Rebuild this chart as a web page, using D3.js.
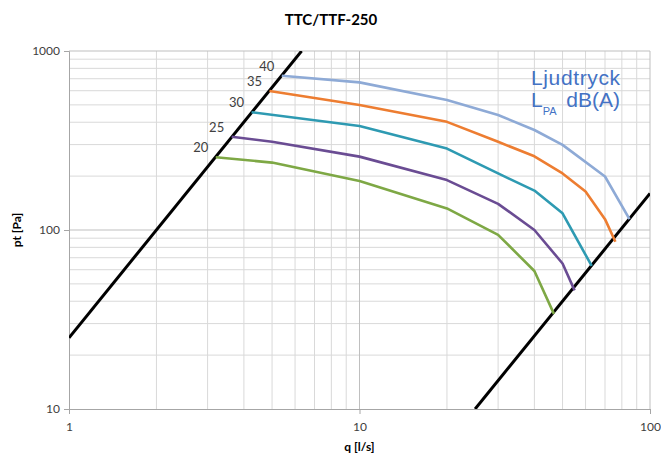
<!DOCTYPE html>
<html>
<head>
<meta charset="utf-8">
<script src="https://cdn.jsdelivr.net/npm/d3@7"></script>
<style>
	body { margin: 0; background: #fff; }
	text { font-family: Lato, 'Open Sans', sans-serif; }
	.note text { font-family: 'Liberation Sans', Arial, sans-serif; }
</style>
</head>
<body>
<div class="canvas"></div>
<script>
// podaci - razine buke i krivulje
const levels = [20, 25, 30, 35, 40];
const q20 = [3.2, 5, 10, 20, 30, 40, 46.7];
const pt20 = [255, 238, 188, 132, 94, 59, 34];
const q25 = [3.63, 5, 10, 20, 30, 40, 50, 55];
const pt25 = [332, 311, 257, 190, 140, 100, 65, 46];
const q30 = [4.25, 10, 20, 30, 40, 50, 63];
const pt30 = [455, 381, 285, 207, 166, 124, 63];
const q35 = [4.9, 10, 20, 30, 40, 50, 60, 70, 76];
const pt35 = [598, 499, 402, 311, 258, 207, 164, 115, 86];
const q40 = [5.4, 10, 20, 30, 40, 50, 70, 85];
const pt40 = [728, 668, 532, 439, 362, 299, 199, 115];
const colours = ['#7ea845', '#6a4c93', '#2e9ab2', '#ed7d31', '#8eaad6'];

// granicne linije
const minQ = [1, 6.32];
const minPt = [25, 1000];
const maxQ = [25, 100];
const maxPt = [10, 160];

const xTicks = [1, 10, 100];
const yTicks = [10, 100, 1000];

const series = [
	{ level: 20, q: q20, pt: pt20 },
	{ level: 25, q: q25, pt: pt25 },
	{ level: 30, q: q30, pt: pt30 },
	{ level: 35, q: q35, pt: pt35 },
	{ level: 40, q: q40, pt: pt40 }
];

const svg = d3
	.select('.canvas')
	.append('svg')
	.attr('width', 661)
	.attr('height', 457);

const margin = { top: 51, right: 11, bottom: 48, left: 69 };
const diagramWidth = 661 - margin.left - margin.right;
const diagramHeight = 457 - margin.top - margin.bottom;

const diagram = svg
	.append('g')
	.attr('transform', `translate(${margin.left}, ${margin.top})`);

const x = d3.scaleLog().domain([1, 100]).range([0, diagramWidth]);
const y = d3.scaleLog().domain([10, 1000]).range([diagramHeight, 0]);

// mreza
const minorX = [];
const minorY = [];
[1, 10].forEach((d) => {
	for (let k = 2; k <= 9; k++) minorX.push(d * k);
});
[10, 100].forEach((d) => {
	for (let k = 2; k <= 9; k++) minorY.push(d * k);
});

diagram.append('g')
	.selectAll('line')
	.data(minorX)
	.enter()
	.append('line')
	.attr('x1', (d) => x(d)).attr('x2', (d) => x(d))
	.attr('y1', 0).attr('y2', diagramHeight)
	.attr('stroke', '#d9d9d9');

diagram.append('g')
	.selectAll('line')
	.data(minorY)
	.enter()
	.append('line')
	.attr('y1', (d) => y(d)).attr('y2', (d) => y(d))
	.attr('x1', 0).attr('x2', diagramWidth)
	.attr('stroke', '#d9d9d9');

diagram.append('g')
	.selectAll('line')
	.data(xTicks.slice(1))
	.enter()
	.append('line')
	.attr('x1', (d) => x(d)).attr('x2', (d) => x(d))
	.attr('y1', 0).attr('y2', diagramHeight)
	.attr('stroke', '#bfbfbf');

diagram.append('g')
	.selectAll('line')
	.data(yTicks.slice(1))
	.enter()
	.append('line')
	.attr('y1', (d) => y(d)).attr('y2', (d) => y(d))
	.attr('x1', 0).attr('x2', diagramWidth)
	.attr('stroke', '#bfbfbf');

// osi
const xAxis = d3.axisBottom(x).tickValues(xTicks).tickFormat(d3.format('d')).tickSize(5).tickPadding(8);
const yAxis = d3.axisLeft(y).tickValues(yTicks).tickFormat(d3.format('d')).tickSize(5).tickPadding(4);

const xAxisGroup = diagram.append('g')
	.attr('transform', `translate(0, ${diagramHeight})`)
	.call(xAxis);
const yAxisGroup = diagram.append('g').call(yAxis);

[xAxisGroup, yAxisGroup].forEach((g) => {
	g.select('.domain').attr('stroke', '#a6a6a6');
	g.selectAll('.tick line').attr('stroke', '#a6a6a6');
	g.selectAll('text')
		.attr('fill', '#404040')
		.style('font-size', '12px')
		.style('font-family', 'Lato, sans-serif');
});

// granicne linije
const line = d3.line()
	.x((d) => x(d[0]))
	.y((d) => y(d[1]));

const clip = diagram.append('clipPath').attr('id', 'plotclip');
clip.append('rect').attr('width', diagramWidth).attr('height', diagramHeight);

const limits = diagram.append('g').attr('clip-path', 'url(#plotclip)');
[[minQ, minPt], [maxQ, maxPt]].forEach(([qs, ps]) => {
	limits.append('path')
		.attr('d', line(qs.map((q, i) => [q, ps[i]])))
		.attr('fill', 'none')
		.attr('stroke', '#000')
		.attr('stroke-width', 3);
});

// krivulje buke
diagram.selectAll('.curve')
	.data(series)
	.enter()
	.append('path')
	.attr('class', 'curve')
	.attr('d', (s) => line(s.q.map((q, i) => [q, s.pt[i]])))
	.attr('fill', 'none')
	.attr('stroke', (s, i) => colours[i])
	.attr('stroke-width', 2.6)
	.attr('stroke-linejoin', 'round');

diagram.selectAll('.lvl')
	.data(series)
	.enter()
	.append('text')
	.attr('class', 'lvl')
	.attr('x', (s) => x(s.q[0]) - 15)
	.attr('y', (s) => y(s.pt[0]) - 5)
	.attr('text-anchor', 'middle')
	.attr('fill', '#404040')
	.style('font-size', '13px')
	.text((s) => s.level);

// naslovi
svg.append('text')
	.attr('x', 331)
	.attr('y', 25)
	.attr('text-anchor', 'middle')
	.attr('fill', '#000')
	.style('font-size', '15px')
	.style('font-weight', 'bold')
	.text('TTC/TTF-250');

svg.append('text')
	.attr('x', margin.left + diagramWidth / 2)
	.attr('y', 451)
	.attr('text-anchor', 'middle')
	.attr('fill', '#000')
	.style('font-size', '12px')
	.style('font-weight', 'bold')
	.text('q [l/s]');

svg.append('text')
	.attr('transform', `translate(21, ${margin.top + diagramHeight / 2}) rotate(-90)`)
	.attr('text-anchor', 'middle')
	.attr('fill', '#000')
	.style('font-size', '12px')
	.style('font-weight', 'bold')
	.text('pt [Pa]');

// napomena
const note = svg.append('g')
	.attr('class', 'note')
	.attr('fill', '#4472c4')
	.style('font-size', '21px');
note.append('text')
	.attr('x', 531)
	.attr('y', 85)
	.attr('textLength', 89)
	.attr('lengthAdjust', 'spacing')
	.text('Ljudtryck');
note.append('text')
	.attr('x', 531)
	.attr('y', 107)
	.text('L')
	.append('tspan')
	.attr('dy', 8)
	.style('font-size', '11px')
	.text('PA');
note.append('text')
	.attr('x', 620)
	.attr('y', 107)
	.attr('text-anchor', 'end')
	.text('dB(A)');
</script>
</body>
</html>
